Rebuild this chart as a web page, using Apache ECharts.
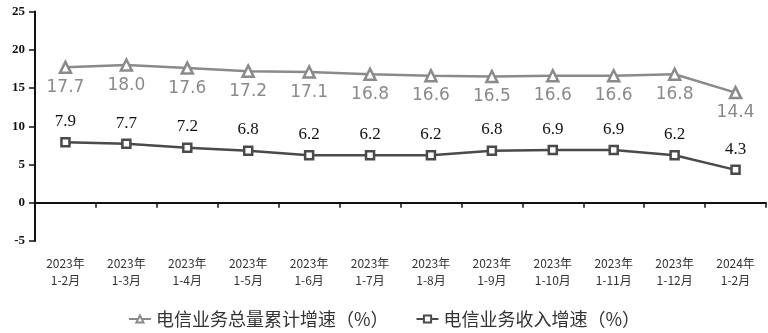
<!DOCTYPE html>
<html><head><meta charset="utf-8">
<script src="https://cdn.jsdelivr.net/npm/echarts@6/dist/echarts.min.js"></script>
<style>html,body{margin:0;padding:0;background:#fff}#c{width:768px;height:333px}</style>
</head><body><div id="c"></div>
<script>
var categories = ['2023年\n1-2月','2023年\n1-3月','2023年\n1-4月','2023年\n1-5月','2023年\n1-6月','2023年\n1-7月','2023年\n1-8月','2023年\n1-9月','2023年\n1-10月','2023年\n1-11月','2023年\n1-12月','2024年\n1-2月'];
var totalGrowth = [17.7,18.0,17.6,17.2,17.1,16.8,16.6,16.5,16.6,16.6,16.8,14.4];
var revenueGrowth = [7.9,7.7,7.2,6.8,6.2,6.2,6.2,6.8,6.9,6.9,6.2,4.3];
var seriesNames = ['电信业务总量累计增速（%）','电信业务收入增速（%）'];

var chart = echarts.init(document.getElementById('c'));
chart.setOption({
  animation:false,
  grid:{left:35,right:2,top:11.5,bottom:92},
  legend:{
    top:305, left:'center', itemGap:27, itemWidth:22, itemHeight:9,
    textStyle:{fontSize:18,color:'#333',fontFamily:'Noto Sans CJK SC'},
    data:seriesNames
  },
  xAxis:{
    type:'category', data:categories, boundaryGap:true,
    axisLine:{lineStyle:{color:'#111',width:2}},
    axisTick:{show:true,length:5,lineStyle:{color:'#111',width:1.5}},
    axisLabel:{fontSize:12,color:'#333',lineHeight:17,margin:14,fontFamily:'Noto Sans CJK SC'}
  },
  yAxis:{
    type:'value', min:-5, max:25, interval:5,
    splitLine:{show:false},
    axisLine:{show:true,lineStyle:{color:'#111',width:2}},
    axisTick:{show:true,length:6,lineStyle:{color:'#111',width:1.5}},
    axisLabel:{fontSize:13,fontWeight:'bold',color:'#111',fontFamily:'Liberation Serif',margin:10}
  },
  series:[
    {name:seriesNames[0],type:'line',data:totalGrowth,
     symbol:'triangle',symbolSize:11,
     lineStyle:{color:'#8a8a8a',width:2.5},
     itemStyle:{color:'#fff',borderColor:'#8a8a8a',borderWidth:2.5},
     label:{show:true,position:'bottom',distance:5,fontSize:17,color:'#8a8a8a',fontFamily:'DejaVu Sans',
            formatter:function(p){return p.value.toFixed(1);}}},
    {name:seriesNames[1],type:'line',data:revenueGrowth,
     symbol:'rect',symbolSize:8,
     lineStyle:{color:'#4a4a4a',width:2.5},
     itemStyle:{color:'#fff',borderColor:'#4a4a4a',borderWidth:2.5},
     label:{show:true,position:'top',distance:7,fontSize:17,color:'#111',fontFamily:'Liberation Serif',
            formatter:function(p){return p.value.toFixed(1);}}}
  ]
});
</script></body></html>
